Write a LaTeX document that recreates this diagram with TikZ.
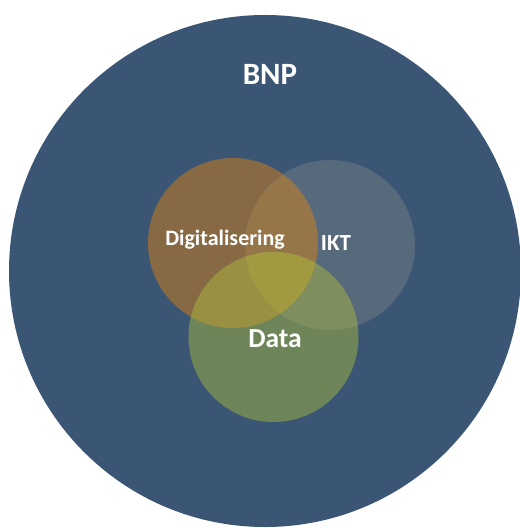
\documentclass[tikz,border=0pt]{standalone}
\usepackage{fontspec}
\setmainfont{Carlito}
\definecolor{bgblue}{HTML}{3B5674}
\definecolor{corange}{HTML}{876A44}
\definecolor{cgray}{HTML}{566A7C}
\definecolor{cgreen}{HTML}{6E8559}
\definecolor{corgr}{HTML}{967548}
\definecolor{corgn}{HTML}{9A9042}
\definecolor{cgrgn}{HTML}{7F8E5E}
\definecolor{call}{HTML}{A29A40}
\tikzset{lbl/.style={text=white,font=\bfseries,inner sep=0pt,anchor=center}}
\begin{document}
\begin{tikzpicture}[x=1bp,y=-1bp]
\useasboundingbox (0,0) rectangle (520,528);
\fill[white] (0,0) rectangle (520,528);
\begin{scope}
\clip (0,0) rectangle (520,528);
\fill[bgblue] (265,271) circle[radius=256];
\end{scope}
\def\cO{(233,243) circle[radius=85]}
\def\cG{(330,245) circle[radius=85]}
\def\cD{(273.5,337) circle[radius=85]}
\fill[corange] \cO;
\fill[cgray] \cG;
\fill[cgreen] \cD;
\begin{scope}\clip \cO; \fill[corgr] \cG; \end{scope}
\begin{scope}\clip \cO; \fill[corgn] \cD; \end{scope}
\begin{scope}\clip \cG; \fill[cgrgn] \cD; \end{scope}
\begin{scope}\clip \cO; \clip \cG; \fill[call] \cD; \end{scope}
\node[lbl,font=\bfseries\fontsize{31bp}{31bp}\selectfont] (bnp) at (270,74) {BNP};
\node[lbl,font=\bfseries\fontsize{22bp}{22bp}\selectfont] (dig) at (225,240) {Digitalisering};
\node[lbl,font=\bfseries\fontsize{23bp}{23bp}\selectfont] (ikt) at (336,243) {IKT};
\node[lbl,font=\bfseries\fontsize{27.5bp}{27.5bp}\selectfont] (data) at (275,339) {Data};
\end{tikzpicture}
\end{document}
